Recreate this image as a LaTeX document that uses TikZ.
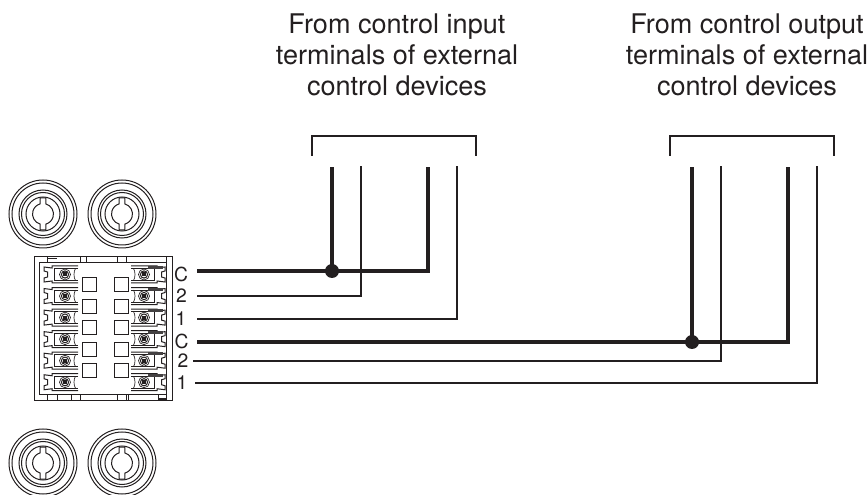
\documentclass[tikz,border=0pt]{standalone}
\usepackage{fontspec}
\setmainfont{TeX Gyre Heros}
\definecolor{ink}{HTML}{231F20}
\tikzset{
  thickwire/.style={draw=ink,line width=3pt,line join=miter},
  thinwire/.style={draw=ink,line width=1.05pt,line join=miter},
  brack/.style={draw=ink,line width=1.05pt},
  junction/.style={circle,fill=ink,inner sep=0pt,minimum size=10.5pt},
  termlabel/.style={font=\fontsize{14.5pt}{16pt}\selectfont,text=ink,inner sep=0pt},
  headlabel/.style={font=\fontsize{20.3pt}{23.25pt}\selectfont,text=ink,align=center,inner sep=0pt},
  part/.style={draw=ink,line width=0.5pt},
  partb/.style={draw=ink,line width=0.75pt},
  pics/knob/.style={code={
    \foreach \r in {34,31,24,21.5,17}{\draw[partb] (0,0) circle[radius=\r];}
    \draw[partb,fill=white] (-2.8,-16) -- (2.8,-16) -- (2.8,-10.1) arc[start angle=-74.5,end angle=74.5,radius=10.5] -- (2.8,16) -- (-2.8,16) -- (-2.8,10.1) arc[start angle=105.5,end angle=254.5,radius=10.5] -- cycle;
  }},
  pics/terminal/.style={code={
    \draw[partb] (34,-8.5) -- (8,-8.5) -- (8,-6.5) -- (0,-7.5) -- (0,-3.5) -- (3.5,-2.5) -- (3.5,2.5) -- (0,3.5) -- (0,7.5) -- (8,6.5) -- (8,8.5) -- (34,8.5);
    \draw[partb] (34,-6) -- (10.5,-6) -- (10.5,6) -- (34,6);
    \draw[part] (31.5,-6) .. controls (29.5,-3) and (29.5,3) .. (31.5,6);
    \draw[part] (21,0) circle[radius=5.5];
    \draw[partb] (21,0) circle[radius=3.6];
    \fill[ink] (19,-2) rectangle (23,2);
  }}
}
\begin{document}
\begin{tikzpicture}[x=0.75pt,y=-0.75pt]
\useasboundingbox (0,0) rectangle (868,495);
% headings
\node[headlabel] (h1) at (397,54.5) {From control input\\terminals of external\\control devices};
\node[headlabel] (h2) at (747,54.5) {From control output\\terminals of external\\control devices};
% brackets
\coordinate (b1a) at (312,156); \coordinate (b1b) at (312,136); \coordinate (b1c) at (476,136); \coordinate (b1d) at (476,156);
\coordinate (b2a) at (670,156); \coordinate (b2b) at (670,136); \coordinate (b2c) at (834,136); \coordinate (b2d) at (834,156);
\draw[brack] (b1a) -- (b1b) -- (b1c) -- (b1d);
\draw[brack] (b2a) -- (b2b) -- (b2c) -- (b2d);
% knobs
\pic at (43,214) {knob}; \pic at (122,214) {knob};
\pic at (43,463) {knob}; \pic at (122,463) {knob};
% connector block
\draw[partb] (34.5,257) rectangle (172.5,401);
\draw[partb] (39,263) -- (39,395) -- (166.5,395) -- (166.5,263) -- cycle;
\foreach \x in {47,80,86,117,126,166}{\draw[part] (\x,257) -- (\x,263);}
\foreach \x in {47,57,71,80,117,126,128,158,166}{\draw[part] (\x,395) -- (\x,401);}
\fill[ink] (47,258) rectangle (57,259.5);
\fill[ink] (158,398) rectangle (166,401);
\foreach \i in {0,...,5}{
  \pgfmathsetmacro{\yy}{274.5+21.55*\i}
  \pic at (44,\yy) {terminal};
  \pic[xscale=-1] at (165,\yy) {terminal};
  \fill[ink!85] (148,\yy-8.5) rectangle (163,\yy-5.5);
}
\foreach \i in {0,...,4}{
  \pgfmathsetmacro{\yy}{285+21.5*\i}
  \draw[partb,fill=white] (82,\yy-7) rectangle (96,\yy+7);
  \draw[partb,fill=white] (114,\yy-7) rectangle (128,\yy+7);
}
% labels
\node[termlabel] (c1) at (181,274) {C};
\node[termlabel] (n2a) at (181.5,296) {2};
\node[termlabel] (n1a) at (181,318.5) {1};
\node[termlabel] (c2) at (181.5,341) {C};
\node[termlabel] (n2b) at (183,361) {2};
\node[termlabel] (n1b) at (182,383) {1};
% wire ends
\coordinate (w1s) at (197,271); \coordinate (w1c) at (428,271); \coordinate (w1e) at (428,167);
\coordinate (w2s) at (197,296); \coordinate (w2c) at (361,296); \coordinate (w2e) at (361,166);
\coordinate (w3s) at (197,319); \coordinate (w3c) at (457,319); \coordinate (w3e) at (457,166);
\coordinate (w4s) at (197,342); \coordinate (w4c) at (788,342); \coordinate (w4e) at (788,167);
\coordinate (w5s) at (193,361); \coordinate (w5c) at (721,361); \coordinate (w5e) at (721,166);
\coordinate (w6s) at (195,383); \coordinate (w6c) at (817,383); \coordinate (w6e) at (817,166);
\coordinate (t1) at (332,167); \coordinate (t2) at (692,167);
\node[junction] (j1) at (332,271) {};
\node[junction] (j2) at (692,342) {};
\draw[thickwire] (w1s) -- (w1c) -- (w1e);
\draw[thickwire] (w4s) -- (w4c) -- (w4e);
\draw[thickwire] (j1.center) -- (t1);
\draw[thickwire] (j2.center) -- (t2);
\draw[thinwire] (w2s) -- (w2c) -- (w2e);
\draw[thinwire] (w3s) -- (w3c) -- (w3e);
\draw[thinwire] (w5s) -- (w5c) -- (w5e);
\draw[thinwire] (w6s) -- (w6c) -- (w6e);
\end{tikzpicture}
\end{document}
